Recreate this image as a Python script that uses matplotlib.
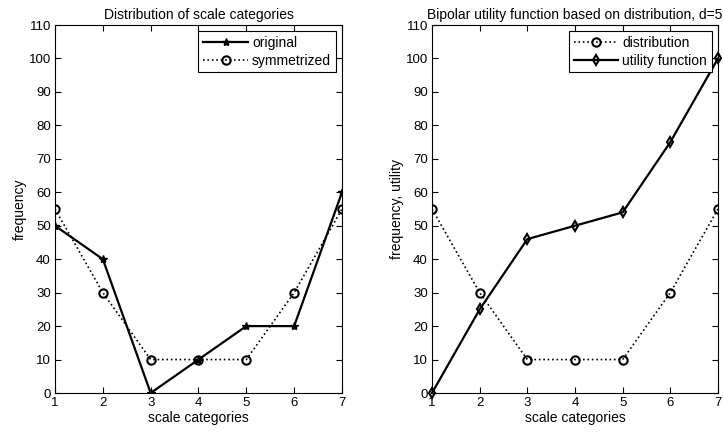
import numpy as np
import matplotlib
matplotlib.use('Agg')
import matplotlib.pyplot as plt

plt.rcParams['font.family'] = ['Liberation Sans', 'DejaVu Sans']
plt.rcParams['font.size'] = 10

categories = [1, 2, 3, 4, 5, 6, 7]
original = [50, 40, 0, 10, 20, 20, 60]
symmetrized = [55, 30, 10, 10, 10, 30, 55]
distribution = [55, 30, 10, 10, 10, 30, 55]
utility = [0, 25, 46, 50, 54, 75, 100]

yticks = list(range(0, 111, 10))

fig = plt.figure(figsize=(7.23, 4.37), dpi=100)
W, H = 723., 437.
ax1 = fig.add_axes([55/W, 1-393/H, (342-55)/W, (393-25)/H])
ax2 = fig.add_axes([432/W, 1-393/H, (718-432)/W, (393-25)/H])

fts = 10

def style(ax):
	ax.set_xlim(1, 7)
	ax.set_ylim(0, 110)
	ax.set_xticks(categories)
	ax.set_yticks(yticks)
	ax.tick_params(direction='in', top=True, right=True, length=4, width=0.8, labelsize=fts-0.5, pad=3)
	for s in ax.spines.values():
		s.set_linewidth(0.8)
	ax.set_xlabel('scale categories', fontsize=fts, labelpad=1)

def legend(ax):
	lg = ax.legend(loc='upper right', fontsize=fts, fancybox=False, framealpha=1, edgecolor='k',
		borderaxespad=0.45, handlelength=3.2, labelspacing=0.25, borderpad=0.35, handletextpad=0.3)
	lg.get_frame().set_linewidth(0.8)

ax1.plot(categories, original, 'k-*', lw=1.6, ms=6, label='original')
ax1.plot(categories, symmetrized, 'k:o', lw=1.2, ms=6, mfc='none', mew=1.5, label='symmetrized')
style(ax1)
ax1.set_ylabel('frequency', fontsize=fts, labelpad=1)
ax1.set_title('Distribution of scale categories', fontsize=fts, pad=4)
legend(ax1)

ax2.plot(categories, distribution, 'k:o', lw=1.2, ms=6, mfc='none', mew=1.5, label='distribution')
ax2.plot(categories, utility, 'k-d', lw=1.6, ms=5, mfc='none', mew=1.5, label='utility function', clip_on=False)
style(ax2)
ax2.set_ylabel('frequency, utility', fontsize=fts, labelpad=1)
ax2.set_title('Bipolar utility function based on distribution, d=5', fontsize=fts, pad=4)
legend(ax2)

plt.savefig('out.png', dpi=100)
plt.close()
